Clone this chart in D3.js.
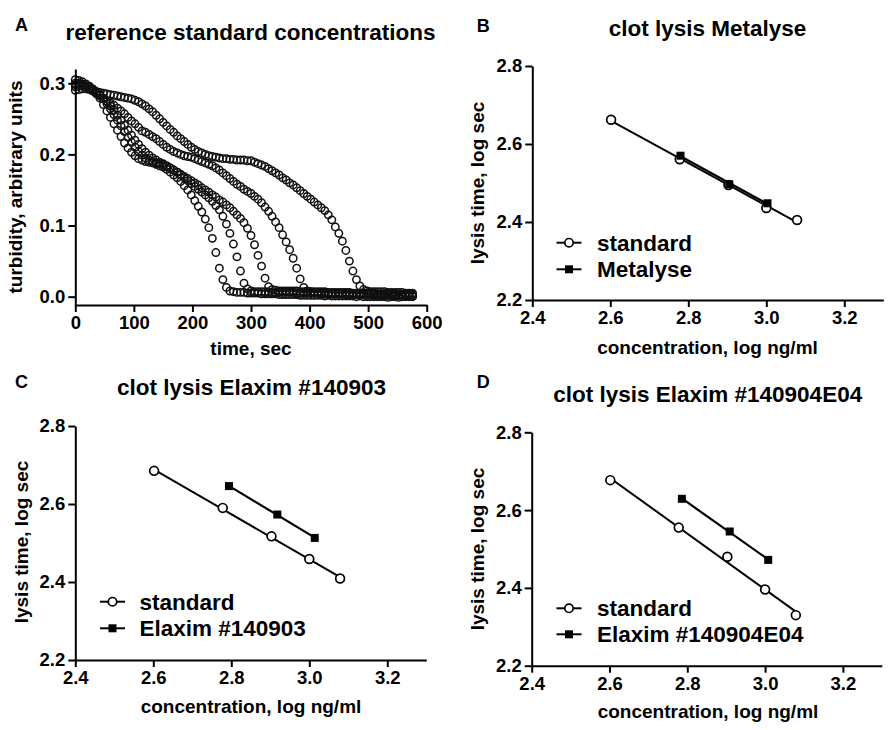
<!DOCTYPE html>
<html><head><meta charset="utf-8">
<script src="https://cdn.jsdelivr.net/npm/d3@7"></script>
<style>
body{margin:0;background:#fff}
svg{display:block}
text{font-family:"Liberation Sans",Arial,Helvetica,sans-serif;font-weight:bold;fill:#000}
</style>
</head><body>
<svg id="chart" width="892" height="730"></svg>
<script>
// ---------- Panel A data: turbidity vs time (5 reference standard concentrations) ----------
const times = [0,6,12,18,24,30,36,42,48,54,60,66,72,78,84,90,96,102,108,114,120,126,132,138,144,150,156,162,168,174,180,186,192,198,204,210,216,222,228,234,240,246,252,258,264,270,276,282,288,294,300,306,312,318,324,330,336,342,348,354,360,366,372,378,384,390,396,402,408,414,420,426,432,438,444,450,456,462,468,474,480,486,492,498,504,510,516,522,528,534,540,546,552,558,564,570,576];
const curve1 = [.295,.296,.296,.295,.293,.290,.285,.279,.270,.261,
  .252,.243,.234,.225,.216,.209,.203,.198,.194,.192,
  .190,.189,.188,.186,.184,.182,.179,.175,.171,.167,
  .162,.156,.150,.143,.135,.127,.119,.109,.097,.082,
  .062,.040,.024,.013,.008,.007,.006,
  .006,.006,.005,.005,.005,.005,.004,.004,.004,.004,
  .004,.003,.003,.003,.003,.003,.003,.002,.002,.002,
  .002,.002,.002,.002,.001,.002,.001,.001,.001,.001,
  .001,.001,.001,.000,.001,.000,.000,.000,.000,.000,
  .000,.000,-.001,.000,.000,-.001,.000,.000,.000,.000];
const curve2 = [.305,.304,.302,.299,.296,.292,.288,.284,.278,.271,
  .264,.256,.248,.240,.232,.224,.217,.210,.204,.199,
  .195,.192,.190,.188,.187,.185,.183,.181,.178,.175,
  .171,.167,.163,.159,.155,.151,.147,.143,.139,.134,
  .128,.122,.113,.102,.089,.074,.056,.036,.019,.011,
  .008,
  .007,.007,.007,.007,.007,.006,.006,.006,.006,.006,
  .006,.006,.005,.005,.005,.005,.005,.005,.005,.004,
  .004,.004,.004,.004,.004,.004,.003,.003,.003,.003,
  .003,.003,.003,.003,.002,.002,.002,.002,.002,.002,
  .002,.002,.002,.001,.001,.001];
const curve3 = [.300,.300,.299,.297,.294,.291,.287,.283,.279,.274,
  .268,.262,.255,.248,.241,.234,.227,.220,.214,.208,
  .203,.199,.195,.192,.189,.187,.184,.181,.178,.175,
  .172,.169,.166,.163,.160,.157,.153,.150,.147,.143,
  .140,.136,.133,.129,.125,.120,.115,.110,.104,.096,
  .086,.073,.058,.043,.026,.014,.010,.009,
  .008,.008,.008,.008,.008,.008,.007,.007,.007,.007,
  .007,.007,.007,.007,.006,.006,.006,.006,.006,.006,
  .006,.005,.005,.005,.005,.005,.005,.005,.004,.004,
  .004,.004,.004,.004,.003,.003,.003,.003,.003];
const curve4 = [.290,.291,.292,.292,.291,.289,.286,.282,.278,.275,
  .272,.269,.265,.261,.257,.252,.247,.243,.238,.233,
  .231,.228,.225,.222,.218,.214,.210,.207,.204,.202,
  .200,.198,.197,.196,.194,.192,.190,.188,.186,.184,
  .181,.178,.174,.170,.166,.162,.158,.155,.151,.148,
  .145,.141,.137,.132,.126,.120,.113,.105,.097,.087,
  .077,.066,.054,.040,.025,.013,.008,.007,
  .006,.006,.006,.006,.005,.005,.005,.005,.005,.005,
  .005,.004,.004,.004,.004,.004,.004,.004,.003,.003,
  .003,.003,.003,.003,.002,.002,.002,.002,.002];
const curve5 = [.298,.299,.298,.296,.293,.291,.288,.287,.286,.285,
  .284,.283,.282,.281,.280,.279,.278,.276,.274,.271,
  .268,.264,.260,.255,.250,.245,.240,.235,.231,.226,
  .222,.218,.214,.210,.207,.204,.202,.200,.198,.197,
  .196,.195,.194,.194,.193,.193,.192,.192,.192,.191,
  .191,.189,.187,.185,.183,.180,.177,.174,.171,.167,
  .164,.160,.157,.153,.149,.145,.141,.137,.133,.129,
  .125,.121,.115,.108,.098,.089,.078,.065,.050,.036,
  .024,.015,.010,.008,.007,
  .007,.007,.007,.007,.006,.006,.006,.006,.006,.005,.005,.005];
const curvesA = [curve1, curve2, curve3, curve4, curve5];
const timeTicks = [0,100,200,300,400,500,600];
const turbTicks = [0.0,0.1,0.2,0.3];

// ---------- Panels B-D data: log lysis time vs log concentration ----------
const concStd = [2.602, 2.778, 2.903, 3.000, 3.079];
const stdB = [2.662, 2.561, 2.495, 2.436, 2.405];
const metalyseConc = [2.780, 2.905, 3.003];
const metalyseTime = [2.570, 2.497, 2.448];
const stdC = [2.685, 2.590, 2.517, 2.459, 2.409];
const elaxim1Conc = [2.794, 2.918, 3.014];
const elaxim1Time = [2.646, 2.573, 2.513];
const stdD = [2.677, 2.555, 2.480, 2.396, 2.330];
const elaxim2Conc = [2.786, 2.909, 3.008];
const elaxim2Time = [2.629, 2.545, 2.472];
const concTicks = [2.4, 2.6, 2.8, 3.0, 3.2];
const lysisTicks = [2.2, 2.4, 2.6, 2.8];

const svg = d3.select("#chart");
const fmt1 = d3.format(".1f");

function styleAxis(g, fs) {
  g.select(".domain").attr("stroke", "#000").attr("stroke-width", 2);
  g.selectAll(".tick line").attr("stroke", "#000").attr("stroke-width", 2);
  g.selectAll(".tick text").attr("font-size", fs).attr("font-weight", "bold")
    .attr("font-family", '"Liberation Sans",Arial,sans-serif').attr("fill", "#000");
}
function label(x, y, txt, size, anchor, rot) {
  const t = svg.append("text").attr("x", x).attr("y", y).attr("font-size", size)
    .attr("text-anchor", anchor || "middle").text(txt);
  if (rot) t.attr("transform", `rotate(-90,${x},${y})`);
  return t;
}

// ---------- Panel A ----------
{
  const x = d3.scaleLinear().domain([0, 600]).range([75.3, 426.7]);
  const y = d3.scaleLinear().domain([-0.0117, 0.32]).range([305, 69]);
  const gA = svg.append("g");
  curvesA.forEach(vals => {
    gA.append("g").selectAll("circle")
      .data(times.map((t, i) => [t, vals[i]]).filter(d => d[1] !== undefined))
      .join("circle")
      .attr("cx", d => x(d[0])).attr("cy", d => y(d[1])).attr("r", 3.7)
      .attr("fill", "none").attr("stroke", "#111").attr("stroke-width", 1.5);
  });
  const ax = gA.append("g").attr("transform", "translate(0,305)")
    .call(d3.axisBottom(x).tickValues(timeTicks).tickFormat(d3.format("d")).tickSize(7).tickPadding(4).tickSizeOuter(0));
  styleAxis(ax, 18.5);
  const ay = gA.append("g").attr("transform", "translate(75.3,0)")
    .call(d3.axisLeft(y).tickValues(turbTicks).tickFormat(fmt1).tickSize(7).tickPadding(3).tickSizeOuter(0));
  styleAxis(ay, 18.5);
  label(15, 31, "A", 18, "start");
  label(250.5, 40, "reference standard concentrations", 22.5);
  label(251, 355, "time, sec", 19);
  label(22, 187, "turbidity, arbitrary units", 19, "middle", true);
}

// ---------- Panels B, C, D ----------
function fit(xs, ys) {
  const mx = d3.mean(xs), my = d3.mean(ys);
  let sxy = 0, sxx = 0;
  xs.forEach((v, i) => { sxy += (v - mx) * (ys[i] - my); sxx += (v - mx) * (v - mx); });
  const b = sxy / sxx, a = my - b * mx;
  const x0 = d3.min(xs), x1 = d3.max(xs);
  return [[x0, a + b * x0], [x1, a + b * x1]];
}

function logPanel(cfg) {
  const x = d3.scaleLinear().domain([2.4, 3.3]).range([cfg.x0, cfg.x0 + 0.9 * cfg.ppu]);
  const y = d3.scaleLinear().domain([2.2, 2.8]).range([cfg.yBot, cfg.yBot - 0.6 * cfg.ppu]);
  const g = svg.append("g");
  const line = d3.line().x(d => x(d[0])).y(d => y(d[1]));
  g.append("path").attr("d", line(fit(concStd, cfg.std))).attr("stroke", "#000").attr("stroke-width", 2).attr("fill", "none");
  g.append("path").attr("d", line(fit(cfg.tx, cfg.ty))).attr("stroke", "#000").attr("stroke-width", 2.2).attr("fill", "none");
  g.append("g").selectAll("circle").data(concStd.map((c, i) => [c, cfg.std[i]])).join("circle")
    .attr("cx", d => x(d[0])).attr("cy", d => y(d[1])).attr("r", 4.4)
    .attr("fill", "#fff").attr("stroke", "#000").attr("stroke-width", 1.7);
  g.append("g").selectAll("rect").data(cfg.tx.map((c, i) => [c, cfg.ty[i]])).join("rect")
    .attr("x", d => x(d[0]) - 4).attr("y", d => y(d[1]) - 4).attr("width", 8).attr("height", 8)
    .attr("fill", "#000");
  const ax = g.append("g").attr("transform", `translate(0,${cfg.yBot})`)
    .call(d3.axisBottom(x).tickValues(concTicks).tickFormat(fmt1).tickSize(7).tickPadding(4).tickSizeOuter(0));
  styleAxis(ax, 18.5);
  const ay = g.append("g").attr("transform", `translate(${cfg.x0},0)`)
    .call(d3.axisLeft(y).tickValues(lysisTicks).tickFormat(fmt1).tickSize(7).tickPadding(3).tickSizeOuter(0));
  styleAxis(ay, 18.5);
  const L = cfg.leg;
  g.append("line").attr("x1", L.x - 12.5).attr("x2", L.x + 12.5).attr("y1", L.y1).attr("y2", L.y1).attr("stroke", "#000").attr("stroke-width", 2);
  g.append("circle").attr("cx", L.x).attr("cy", L.y1).attr("r", 4.2).attr("fill", "#fff").attr("stroke", "#000").attr("stroke-width", 1.7);
  g.append("line").attr("x1", L.x - 12.5).attr("x2", L.x + 12.5).attr("y1", L.y2).attr("y2", L.y2).attr("stroke", "#000").attr("stroke-width", 2);
  g.append("rect").attr("x", L.x - 4).attr("y", L.y2 - 4).attr("width", 8).attr("height", 8).attr("fill", "#000");
  label(L.tx, L.y1 + 8, "standard", 22.5, "start");
  label(L.tx, L.y2 + 8, cfg.name, 22.5, "start");
  label(cfg.letter[0], cfg.letter[1], cfg.letter[2], 18, "start");
  label(cfg.title[0], cfg.title[1], cfg.title[2], 22.5);
  label(cfg.xt[0], cfg.xt[1], "concentration, log ng/ml", 19);
  label(cfg.yt[0], cfg.yt[1], "lysis time, log sec", 19, "middle", true);
}

logPanel({x0: 532.3, yBot: 300, ppu: 390, std: stdB, tx: metalyseConc, ty: metalyseTime, name: "Metalyse",
  leg: {x: 569, tx: 597, y1: 242.7, y2: 269.3}, letter: [476.7, 31.7, "B"],
  title: [707.5, 36, "clot lysis Metalyse"], xt: [707.5, 354], yt: [484, 183]});
logPanel({x0: 75.3, yBot: 660, ppu: 390, std: stdC, tx: elaxim1Conc, ty: elaxim1Time, name: "Elaxim #140903",
  leg: {x: 112.5, tx: 139.5, y1: 601.7, y2: 628.3}, letter: [15, 388, "C"],
  title: [251.5, 395, "clot lysis Elaxim #140903"], xt: [251, 712.7], yt: [28, 542]});
logPanel({x0: 531.7, yBot: 665.7, ppu: 389, std: stdD, tx: elaxim2Conc, ty: elaxim2Time, name: "Elaxim #140904E04",
  leg: {x: 569, tx: 597, y1: 608.3, y2: 634.3}, letter: [476.7, 388, "D"],
  title: [707.7, 402, "clot lysis Elaxim #140904E04"], xt: [708, 718], yt: [484, 549]});
</script>
</body></html>
